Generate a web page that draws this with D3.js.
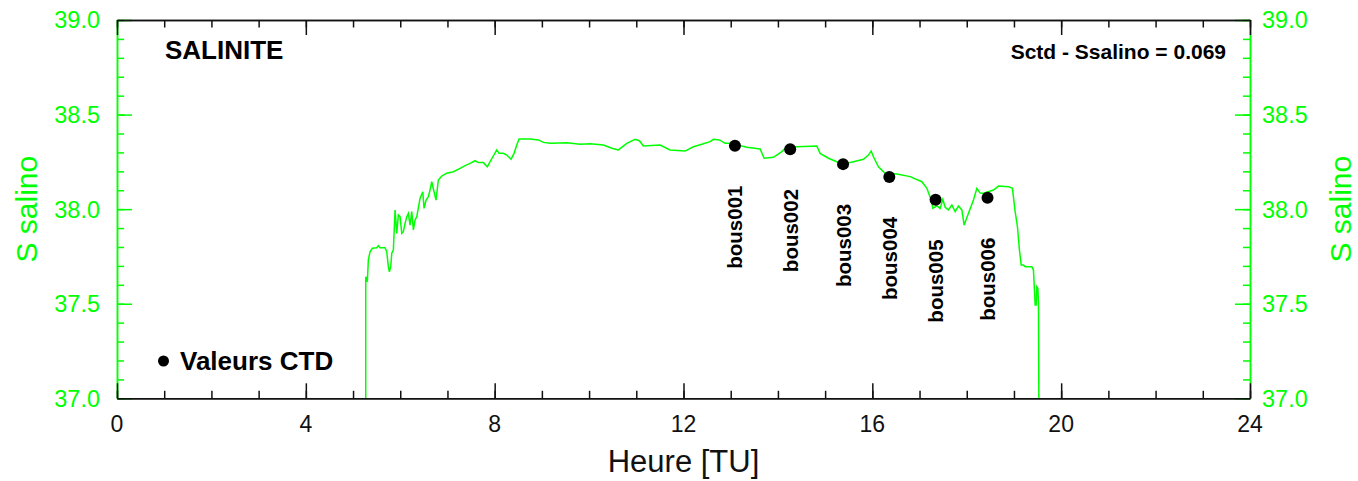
<!DOCTYPE html>
<html>
<head>
<meta charset="utf-8">
<script src="https://cdn.jsdelivr.net/npm/d3@7"></script>
<style>
    body { margin: 0; background: #fff; }
    svg { display: block; font-family: "Liberation Sans", Arial, sans-serif; }
</style>
</head>
<body>
<svg id="svg" width="1358" height="481"></svg>
<script>
// salinity trace (hour TU, salinity)
var salinoHour = [5.269, 5.269, 5.303, 5.324, 5.360, 5.409, 5.502, 5.536, 5.572, 5.678, 5.714, 5.748, 5.769, 5.799, 5.820,
    5.854, 5.890, 5.926, 5.960, 5.996, 6.032, 6.066, 6.102, 6.138, 6.172, 6.208, 6.244, 6.278, 6.314, 6.350,
    6.419, 6.477, 6.504, 6.547, 6.595, 6.631, 6.667, 6.716, 6.758, 6.807, 6.879, 6.985, 7.125, 7.267, 7.373,
    7.479, 7.585, 7.655, 7.761, 7.845, 7.903, 7.972, 8.044, 8.093, 8.184, 8.256, 8.347, 8.411, 8.468, 8.517,
    8.750, 8.926, 9.032, 9.174, 9.528, 9.809, 10.021, 10.303, 10.481, 10.621, 10.799, 10.975, 11.066, 11.150,
    11.504, 11.716, 12.034, 12.210, 12.388, 12.564, 12.633, 12.761, 12.881, 12.987, 13.341, 13.623, 13.708,
    13.905, 14.083, 14.188, 14.400, 14.824, 14.894, 15.070, 15.248, 15.388, 15.600, 15.811, 15.917, 15.975,
    16.023, 16.129, 16.271, 16.519, 16.801, 17.049, 17.155, 17.246, 17.282, 17.367, 17.436, 17.494, 17.542,
    17.612, 17.684, 17.754, 17.824, 17.896, 17.945, 18.036, 18.142, 18.214, 18.284, 18.354, 18.566, 18.672,
    18.883, 18.968, 19.025, 19.074, 19.116, 19.153, 19.201, 19.237, 19.379, 19.413, 19.449, 19.470, 19.485,
    19.506, 19.519, 19.528];

var salinoValue = [36.95, 37.643, 37.616, 37.731, 37.775, 37.793, 37.796, 37.807, 37.796, 37.796, 37.775, 37.696, 37.669, 37.696, 37.767,
    37.784, 37.996, 37.872, 37.969, 37.960, 37.872, 37.881, 37.925, 37.960, 37.978, 37.916, 37.987, 37.890, 37.943, 37.960,
    38.057, 38.092, 38.004, 38.048, 38.066, 38.101, 38.145, 38.092, 38.048, 38.154, 38.175, 38.190, 38.198, 38.216, 38.230,
    38.242, 38.256, 38.246, 38.246, 38.224, 38.251, 38.281, 38.313, 38.295, 38.295, 38.286, 38.264, 38.295, 38.339, 38.371,
    38.371, 38.366, 38.353, 38.348, 38.351, 38.343, 38.346, 38.339, 38.322, 38.313, 38.348, 38.369, 38.362, 38.334,
    38.339, 38.313, 38.307, 38.330, 38.343, 38.357, 38.369, 38.366, 38.348, 38.348, 38.327, 38.318, 38.269,
    38.274, 38.304, 38.330, 38.330, 38.334, 38.295, 38.269, 38.251, 38.239, 38.251, 38.264, 38.286, 38.307,
    38.277, 38.224, 38.190, 38.186, 38.172, 38.145, 38.110, 38.048, 38.004, 38.017, 38.004, 38.052, 38.010,
    37.996, 38.022, 37.987, 38.017, 37.996, 37.916, 37.978, 38.048, 38.110, 38.085, 38.084, 38.101, 38.122,
    38.119, 38.110, 37.987, 37.907, 37.784, 37.705, 37.705, 37.696, 37.696, 37.678, 37.493, 37.493, 37.590,
    37.582, 37.502, 36.95];

// CTD stations
var ctdNames = ['bous001', 'bous002', 'bous003', 'bous004', 'bous005', 'bous006'];
var ctdHour = [13.09, 14.26, 15.38, 16.36, 17.34, 18.44];
var ctdValue = [38.335, 38.317, 38.238, 38.170, 38.050, 38.060];

var xMajor = [0, 4, 8, 12, 16, 20, 24];
var yMajor = [37.0, 37.5, 38.0, 38.5, 39.0];

var deltaLabel = 'Sctd - Ssalino = 0.069';

(function () {

    var green = '#00ff00',
        plot = {left: 117, right: 1250, top: 20, bottom: 398.3};

    var $svg = d3.select('#svg');

    var x = d3.scaleLinear().domain([0, 24]).range([plot.left, plot.right]),
        y = d3.scaleLinear().domain([37, 39]).range([plot.bottom, plot.top]);

    // trace, clipped to plot box
    $svg.append('clipPath').attr('id', 'clip')
        .append('rect')
        .attr('x', plot.left).attr('y', plot.top)
        .attr('width', plot.right - plot.left).attr('height', plot.bottom - plot.top);

    var line = d3.line()
        .x(function (d, i) { return x(salinoHour[i]); })
        .y(function (d) { return y(d); });

    $svg.append('path')
        .attr('clip-path', 'url(#clip)')
        .attr('d', line(salinoValue))
        .attr('fill', 'none')
        .attr('stroke', green)
        .attr('stroke-width', 1.5);

    // axes
    function styleAxis(g, color) {
        g.selectAll('path, line').attr('stroke', color).attr('stroke-width', 1.5);
        g.selectAll('text').remove();
    }

    var xMinor = d3.range(0, 25, 1),
        yMinor = d3.range(37, 39.001, 0.1);

    // y axes (green)
    [[d3.axisLeft, plot.left], [d3.axisRight, plot.right]].forEach(function (a) {
        $svg.append('g').attr('transform', 'translate(' + a[1] + ',0)')
            .call(a[0](y).tickValues(yMinor).tickSize(-7).tickSizeOuter(0))
            .call(styleAxis, green);
        $svg.append('g').attr('transform', 'translate(' + a[1] + ',0)')
            .call(a[0](y).tickValues(yMajor).tickSize(-15).tickSizeOuter(0))
            .call(styleAxis, green);
    });

    // x axes (black)
    [[d3.axisBottom, plot.bottom], [d3.axisTop, plot.top]].forEach(function (a) {
        $svg.append('g').attr('transform', 'translate(0,' + a[1] + ')')
            .call(a[0](x).tickValues(xMinor).tickSize(-7.5).tickSizeOuter(0))
            .call(styleAxis, '#111');
        $svg.append('g').attr('transform', 'translate(0,' + a[1] + ')')
            .call(a[0](x).tickValues(xMajor).tickSize(-15).tickSizeOuter(0))
            .call(styleAxis, '#111');
    });

    // tick labels
    $svg.append('g').selectAll('text').data(xMajor).enter().append('text')
        .attr('x', function (d) { return x(d); })
        .attr('y', 431.5)
        .attr('text-anchor', 'middle')
        .attr('font-size', 23)
        .attr('fill', '#111')
        .text(function (d) { return d; });

    $svg.append('g').selectAll('text').data(yMajor).enter().append('text')
        .attr('x', plot.left - 17)
        .attr('y', function (d) { return y(d); })
        .attr('dy', '0.36em')
        .attr('text-anchor', 'end')
        .attr('font-size', 23.5)
        .attr('fill', green)
        .text(function (d) { return d.toFixed(1); });

    $svg.append('g').selectAll('text').data(yMajor).enter().append('text')
        .attr('x', plot.right + 12)
        .attr('y', function (d) { return y(d); })
        .attr('dy', '0.36em')
        .attr('text-anchor', 'start')
        .attr('font-size', 23.5)
        .attr('fill', green)
        .text(function (d) { return d.toFixed(1); });

    // axis titles
    $svg.append('text')
        .attr('x', (plot.left + plot.right) / 2)
        .attr('y', 471.5)
        .attr('text-anchor', 'middle')
        .attr('font-size', 31)
        .attr('fill', '#111')
        .text('Heure [TU]');

    [37, 1351].forEach(function (bx) {
        $svg.append('text')
            .attr('transform', 'translate(' + bx + ',' + ((plot.top + plot.bottom) / 2) + ') rotate(-90)')
            .attr('text-anchor', 'middle')
            .attr('font-size', 30)
            .attr('fill', green)
            .text('S salino');
    });

    // CTD points and station labels
    var $ctd = $svg.append('g');
    ctdNames.forEach(function (name, i) {
        var cx = x(ctdHour[i]), cy = y(ctdValue[i]);
        $ctd.append('circle')
            .attr('cx', cx).attr('cy', cy).attr('r', 6)
            .attr('fill', '#000');
        $ctd.append('text')
            .attr('transform', 'translate(' + (cx + 7.5) + ',' + y(ctdValue[i] - 0.65) + ') rotate(-90)')
            .attr('text-anchor', 'start')
            .attr('font-size', 20.5)
            .attr('font-weight', 'bold')
            .attr('fill', '#000')
            .text(name);
    });

    // annotations
    $svg.append('text')
        .attr('x', 165).attr('y', 59)
        .attr('font-size', 26).attr('font-weight', 'bold')
        .text('SALINITE');

    $svg.append('text')
        .attr('x', 1226).attr('y', 59)
        .attr('text-anchor', 'end')
        .attr('font-size', 21).attr('font-weight', 'bold')
        .text(deltaLabel);

    $svg.append('circle')
        .attr('cx', 163.5).attr('cy', 361).attr('r', 5.5)
        .attr('fill', '#000');
    $svg.append('text')
        .attr('x', 180).attr('y', 370)
        .attr('font-size', 26).attr('font-weight', 'bold')
        .text('Valeurs CTD');

})();
</script>
</body>
</html>
